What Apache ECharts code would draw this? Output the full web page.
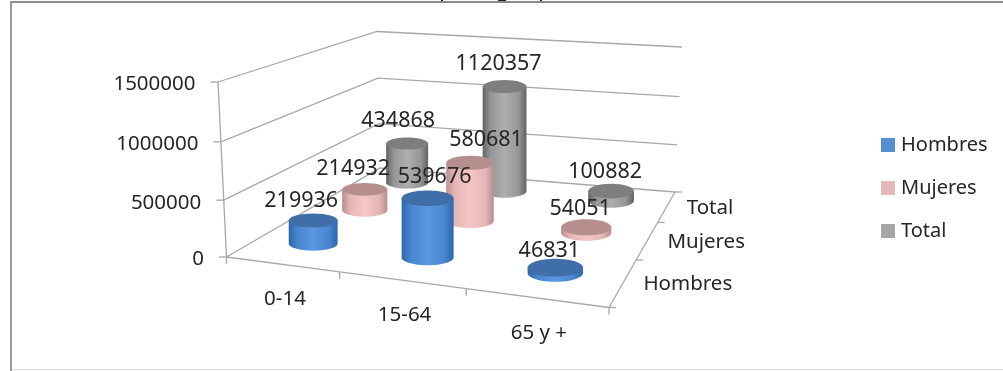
<!DOCTYPE html>
<html>
<head>
<meta charset="utf-8">
<style>html,body{margin:0;padding:0;background:#fff}#chart{width:1003px;height:371px}</style>
<script src="https://cdn.jsdelivr.net/npm/echarts@6/dist/echarts.min.js"></script>
</head>
<body>
<div id="chart"></div>
<script>
// Population by age band and sex
const categories = ['0-14', '15-64', '65 y +'];
const rows = ['Hombres', 'Mujeres', 'Total'];
const hombres = [219936, 539676, 46831];
const mujeres = [214932, 580681, 54051];
const total = [434868, 1120357, 100882];
const valueTicks = [0, 500000, 1000000, 1500000];
const valueMax = 1500000;

const rowValues = [hombres, mujeres, total];
const legendColors = ['#558ed5', '#e6b9b8', '#a6a6a6'];
const bodyShades = [
  ['#2c66aa', '#4a85cf', '#5c97e2', '#4a85cf', '#2c66aa'],
  ['#b78f8e', '#e4b7b6', '#f4c6c5', '#e4b7b6', '#b78f8e'],
  ['#626262', '#969696', '#aeaeae', '#969696', '#626262']
];
const capColors = ['#3f6ea9', '#b58e8d', '#7e7e7e'];

// Corners of the oblique box: floor and the plane at the axis maximum,
// listed front-left, front-right, back-right, back-left.
const floorQuad = [[226.5, 257], [609, 307.5], [675, 192], [380, 168]];
const topQuad = [[218, 82], [615, 115], [682, 47], [377, 31.5]];
const lineColor = '#a8a8a8';
const textColor = '#262626';
const font = '20.5px "Noto Sans", sans-serif';
const labelFont = '21.5px "Noto Sans", sans-serif';

function squareToQuad(q) {
  const [x0, y0] = q[0], [x1, y1] = q[1], [x2, y2] = q[2], [x3, y3] = q[3];
  const dx1 = x1 - x2, dx2 = x3 - x2, sx = x0 - x1 + x2 - x3;
  const dy1 = y1 - y2, dy2 = y3 - y2, sy = y0 - y1 + y2 - y3;
  const den = dx1 * dy2 - dx2 * dy1;
  const g = (sx * dy2 - dx2 * sy) / den;
  const h = (dx1 * sy - sx * dy1) / den;
  const a = x1 - x0 + g * x1, b = x3 - x0 + h * x3;
  const d = y1 - y0 + g * y1, e = y3 - y0 + h * y3;
  return (u, v) => {
    const w = g * u + h * v + 1;
    return [(a * u + b * v + x0) / w, (d * u + e * v + y0) / w];
  };
}
const floorMap = squareToQuad(floorQuad);
const topMap = squareToQuad(topQuad);

// u, v in category units (0..3), zn is the value as a share of the axis range
function project(u, v, zn) {
  const p = floorMap(u / 3, v / 3), q = topMap(u / 3, v / 3);
  const t = zn / (1 + 0.04 * (1 - zn));
  return [p[0] + (q[0] - p[0]) * t, p[1] + (q[1] - p[1]) * t];
}

// Read the flat cartesian position from the axes and turn it into box units
function boxUnits(api, params, cat, value) {
  const c = api.coord([cat, value]);
  const s = params.coordSys;
  return { u: 3 * (c[0] - s.x) / s.width, zn: (s.y + s.height - c[1]) / s.height };
}

function seg(a, b, z2) {
  return { type: 'line', z2: z2 || 0, shape: { x1: a[0], y1: a[1], x2: b[0], y2: b[1] },
    style: { stroke: lineColor, lineWidth: 1.3 } };
}
function txt(x, y, text, align, z2, textFont) {
  return { type: 'text', z2: z2 || 0,
    style: { x, y, text, font: textFont || font, fill: textColor, align: align || 'center', verticalAlign: 'middle' } };
}

function renderWall(params, api) {
  const b = boxUnits(api, params, 0, api.value(1));
  const front = project(0, 0, b.zn), back = project(0, 3, b.zn), right = project(3, 3, b.zn);
  const kids = [
    { type: 'polyline', shape: { points: [front, back, right] },
      style: { stroke: lineColor, lineWidth: 1.3, fill: 'none' } },
    seg(front, [front[0] - 7.5, front[1]]),
    txt(front[0] - 22.5, front[1] + 2.5, String(api.value(1)), 'right')
  ];
  if (api.value(1) === valueMax) kids.push(seg(project(0, 0, 0), front));
  return { type: 'group', children: kids };
}

function renderFloor(params, api) {
  const b = boxUnits(api, params, api.value(0), 0);
  const start = project(b.u - 0.5, 0, 0), end = project(b.u + 0.5, 0, 0), mid = project(b.u, 0, 0);
  const kids = [seg(start, end), seg(end, [end[0], end[1] + 7]),
    txt(mid[0] + 3.5, mid[1] + 35, categories[api.value(0)])];
  if (api.value(0) === 0) kids.push(seg(start, [start[0], start[1] + 7]));
  return { type: 'group', children: kids };
}

function renderDepth(params, api) {
  const i = api.value(2);
  const start = project(3, i, 0), end = project(3, i + 1, 0), mid = project(3, i + 0.5, 0);
  const kids = [seg(start, end), seg(end, [end[0] + 7, end[1]]),
    txt(mid[0] + 20, mid[1] + 2, rows[i], 'left')];
  if (i === 0) kids.push(seg(start, [start[0] + 7, start[1]]));
  return { type: 'group', children: kids };
}

// Value labels sit above the cap, each moved a little to clear its neighbours
const labelLift = [-6, -23];
const labelNudge = {
  '0,0': [-6, 3], '0,1': [13, 2], '0,2': [0, 6],
  '1,0': [-5.5, 3], '1,1': [22, 0], '1,2': [0, 5],
  '2,0': [-3, 0], '2,1': [0, 0], '2,2': [0, 4]
};

function cylinderRenderer(row) {
  return function (params, api) {
    const cat = api.value(0), value = api.value(1);
    const b = boxUnits(api, params, cat, value);
    const v = row + 0.5;
    const foot = project(b.u, v, 0);
    const head = project(b.u, v, b.zn * 0.97);
    // Columns stay upright on screen: only the height comes from the upper plane
    const cx = foot[0] + 1.5, baseY = foot[1] - 1, capY = head[1] - 1;
    const span = project(b.u + 0.5, v, 0)[0] - project(b.u - 0.5, v, 0)[0];
    const rx = span * (0.23 - 0.01 * b.u);
    const ry = rx * (0.285 + 0.006 * b.u * b.u);
    const z2 = 10 - row;
    const pts = [];
    for (let k = 0; k <= 24; k++) {
      const a = Math.PI * k / 24;
      pts.push([cx + rx * Math.cos(a), baseY + ry * Math.sin(a)]);
    }
    pts.push([cx - rx, capY], [cx + rx, capY]);
    const shades = bodyShades[row];
    const fill = new echarts.graphic.LinearGradient(0, 0, 1, 0,
      shades.map((color, k) => ({ offset: [0, 0.18, 0.5, 0.82, 1][k], color })));
    const nudge = labelNudge[row + ',' + cat];
    return {
      type: 'group',
      children: [
        { type: 'polygon', z2, shape: { points: pts }, style: { fill } },
        { type: 'ellipse', z2, shape: { cx, cy: capY, rx, ry }, style: { fill: capColors[row] } },
        txt(cx + labelLift[0] + nudge[0], capY + labelLift[1] + nudge[1], String(value), 'center', 100, labelFont)
      ]
    };
  };
}

const cylinderSeries = rows.map((name, row) => ({
  name,
  type: 'custom',
  renderItem: cylinderRenderer(row),
  itemStyle: { color: legendColors[row] },
  encode: { x: 0, y: 1 },
  data: rowValues[row].map((val, i) => [i, val])
}));

const chart = echarts.init(document.getElementById('chart'), null, { renderer: 'canvas' });
chart.setOption({
  animation: false,
  backgroundColor: '#ffffff',
  grid: { left: 0, top: 0, width: 300, height: 300, show: false },
  xAxis: { type: 'category', data: categories, show: false },
  yAxis: { type: 'value', min: 0, max: valueMax, interval: 500000, show: false },
  legend: {
    orient: 'vertical', left: 881, top: 135, icon: 'rect',
    itemWidth: 14, itemHeight: 14, itemGap: 23, padding: 0,
    data: rows,
    selectedMode: false,
    textStyle: { color: textColor, fontFamily: '"Noto Sans", sans-serif', fontSize: 20, lineHeight: 20, padding: [0, 0, 0, 1] }
  },
  graphic: [
    { type: 'rect', silent: true, z: 50, shape: { x: 10, y: 1, width: 993, height: 2 }, style: { fill: '#8c8c8c' } },
    { type: 'rect', silent: true, z: 50, shape: { x: 10, y: 2, width: 2, height: 369 }, style: { fill: '#9a9a9a' } },
    { type: 'rect', silent: true, z: 50, shape: { x: 12, y: 369, width: 991, height: 1 }, style: { fill: '#dcdcdc' } },
    // Descenders of the heading, cut off by the upper edge
    { type: 'rect', silent: true, z: 49, shape: { x: 441, y: 0, width: 2, height: 1 }, style: { fill: '#222' } },
    { type: 'rect', silent: true, z: 49, shape: { x: 498, y: 0, width: 8, height: 1 }, style: { fill: '#222' } },
    { type: 'rect', silent: true, z: 49, shape: { x: 540, y: 0, width: 2, height: 1 }, style: { fill: '#222' } }
  ],
  series: [
    { type: 'custom', renderItem: renderWall, encode: { x: 0, y: 1 }, data: valueTicks.map(t => [0, t]) },
    { type: 'custom', renderItem: renderFloor, encode: { x: 0, y: 1 }, data: categories.map((c, i) => [i, 0]) },
    { type: 'custom', renderItem: renderDepth, encode: { x: 0, y: 1 }, data: rows.map((r, i) => [0, 0, i]) }
  ].concat(cylinderSeries)
});
</script>
</body>
</html>
